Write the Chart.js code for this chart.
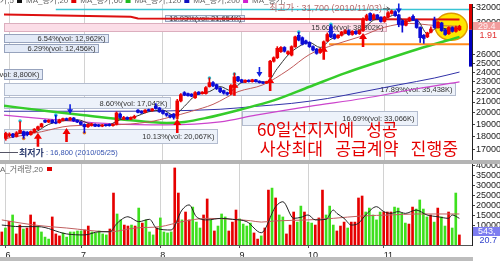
<!DOCTYPE html>
<html>
<head>
<meta charset="utf-8">
<script src="https://cdn.jsdelivr.net/npm/chart.js@4.4.0/dist/chart.umd.min.js"></script>
<style>
  html, body { margin: 0; padding: 0; background: #fff; }
  #wrap { position: relative; width: 500px; height: 261px; overflow: hidden; background: #fff; }
  canvas { position: absolute; left: 0; }
  #price { top: 0; }
  #volume { top: 164px; }
</style>
</head>
<body>
<div id="wrap">
  <canvas id="price" width="500" height="164"></canvas>
  <canvas id="volume" width="500" height="97"></canvas>
</div>
<script>
// time axis: index of the first trading day of each month
const monthStarts = [1, 22, 44, 66, 85, 106]
const monthLabels = ['6', '7', '8', '9', '10', '11']

// daily candles, 2010/05/31 .. 2010/11/30
const opens = [
    17850, 18100, 18200, 18000, 18300, 18400, 18350, 18150, 18350, 18600,
    18800, 19350, 19200, 19350, 19200, 19150, 19350, 19500, 19400, 19550,
    19350, 19200, 19000, 18800, 18900, 19000, 18950, 18850, 18950, 19000,
    18900, 19000, 19900, 19450, 19600, 19450, 19550, 20250, 20150, 20050,
    20300, 20200, 20600, 20450, 20200, 19950, 19800, 19900, 19700, 21100,
    21900, 21800, 21750, 21400, 21950, 21800, 21800, 22500, 22900, 22700,
    22350, 22100, 21900, 21800, 22900, 23500, 23200, 22950, 23150, 23000,
    23200, 23050, 22950, 22850, 23500, 25200, 25600, 26300, 26800, 26050,
    25900, 26900, 28300, 28000, 27600, 27400, 26900, 26600, 26200, 26700,
    27600, 29400, 28400, 28000, 28300, 28600, 28900, 28400, 28800, 28500,
    28900, 30300, 31200, 30500, 31000, 30700, 30100, 30700, 31200, 31450,
    31000, 30200, 29600, 30200, 30800, 30300, 29300, 28300, 28100, 28700,
    30300, 29300, 29900, 29000, 28500, 29300, 28800, 29000,
]
const highs = [
    18350, 18300, 18250, 18400, 19250, 18450, 18400, 18450, 18650, 18850,
    19100, 19400, 19400, 19400, 19800, 19450, 19550, 19550, 19600, 19600,
    19400, 19250, 19050, 19050, 19100, 19050, 19000, 19000, 19000, 19050,
    19050, 20100, 20000, 19700, 19650, 19650, 19800, 20300, 20200, 20300,
    20350, 20400, 20850, 20500, 20250, 20000, 19850, 19950, 21250, 21800,
    22000, 21850, 21800, 22000, 22000, 22000, 22500, 23400, 23000, 22750,
    22400, 22150, 21950, 22700, 23900, 23550, 23250, 23200, 23200, 23250,
    23250, 23100, 23000, 23050, 25300, 25700, 26900, 26900, 26900, 26400,
    27000, 28200, 28700, 28100, 27700, 27500, 27000, 26700, 26700, 27600,
    28600, 29700, 28500, 28400, 28800, 29000, 29000, 28900, 28900, 29000,
    30600, 31100, 31300, 31150, 31050, 30750, 30800, 31450, 31700, 31600,
    31100, 30300, 30300, 30700, 31000, 30400, 29400, 28400, 28700, 29400,
    30700, 30100, 30000, 29100, 29400, 29400, 29500, 29600,
]
const lows = [
    17700, 17950, 17900, 17950, 18250, 17850, 18050, 18100, 18300, 18550,
    18750, 19150, 19150, 19100, 19050, 19100, 19300, 19350, 19350, 19250,
    19150, 18950, 18300, 18750, 18850, 18800, 18800, 18800, 18850, 18850,
    18850, 18950, 19500, 19400, 19400, 19400, 19500, 20000, 19950, 20000,
    20150, 20150, 20350, 20050, 19900, 19700, 19550, 19450, 19500, 21000,
    21600, 21550, 21500, 21350, 21700, 21750, 21750, 22450, 22500, 22200,
    21900, 21750, 21650, 21700, 22800, 23000, 22900, 22900, 22950, 22950,
    22950, 22850, 22800, 22800, 23450, 25100, 25500, 26200, 26250, 25950,
    25800, 26800, 27600, 27100, 27200, 26800, 26400, 26000, 26100, 26600,
    27500, 28000, 27800, 27900, 28200, 28500, 28300, 28300, 28400, 28400,
    28800, 30200, 30200, 30400, 30400, 30000, 30000, 30600, 31100, 30800,
    29400, 28700, 29500, 30100, 30200, 29200, 27400, 27300, 28000, 28600,
    29200, 29200, 28800, 28300, 28400, 28700, 28700, 28900,
]
const closes = [
    18250, 18200, 18000, 18300, 18500, 18050, 18150, 18400, 18600, 18800,
    19050, 19200, 19350, 19150, 19100, 19400, 19500, 19400, 19550, 19300,
    19200, 19000, 18800, 19000, 19050, 18850, 18850, 18950, 18900, 18900,
    19000, 20000, 19600, 19600, 19450, 19600, 19700, 20050, 20000, 20250,
    20200, 20350, 20400, 20100, 19950, 19800, 19650, 19600, 21100, 21700,
    21650, 21600, 21550, 21900, 21750, 21950, 22400, 22900, 22600, 22300,
    22000, 21850, 21750, 22600, 23500, 23100, 22950, 23150, 23000, 23200,
    23000, 22900, 22850, 23000, 25200, 25600, 26700, 26800, 26350, 26300,
    26900, 28100, 27700, 27200, 27300, 26900, 26500, 26100, 26600, 27500,
    28400, 28100, 27900, 28300, 28700, 28900, 28400, 28800, 28500, 28900,
    30400, 30900, 30300, 31000, 30500, 30100, 30700, 31300, 31550, 30900,
    29700, 29600, 30200, 30600, 30300, 29300, 28000, 27900, 28600, 29100,
    29300, 30000, 28900, 28400, 29300, 28800, 29300, 29450,
]

// volume (thousand shares), r = red bar, g = green bar
const volumes = [
    6600, 8600, 12000, 15200, 5600, 10100, 8100, 8600, 15200, 11600, 9600, 6600, 4000, 3000, 14200, 5600,
    4600, 6100, 4000, 6600, 6600, 7100, 7100, 7600, 9600, 6600, 6100, 7100, 5600, 5100, 8100, 26300,
    15700, 12700, 10100, 9600, 10100, 9600, 18700, 11100, 12700, 6600, 5100, 8600, 13700, 6600, 6100, 6600,
    39000, 26300, 12700, 16700, 12700, 19200, 11600, 8600, 15200, 23300, 12700, 7100, 9600, 15700, 14200, 7100,
    11600, 17700, 13200, 10600, 9600, 11100, 6100, 3000, 4600, 8600, 27800, 28800, 23800, 15200, 14200, 5600,
    10100, 16700, 11600, 19700, 16700, 11600, 11100, 10100, 13700, 27800, 15200, 19700, 10100, 7100, 9600, 11600,
    8600, 11600, 11600, 23800, 24800, 16700, 18700, 15200, 12700, 16700, 16700, 16700, 16700, 19200, 18700, 16200,
    11100, 10600, 19200, 18200, 22800, 18200, 14200, 15200, 11600, 18700, 14200, 9600, 16700, 8600, 26300, 5100,
]
const volColors =
    'rgrgrrgrrrggggrr' + 'rggggggrrgggggrr' + 'ggrrgrgrgggrgggg' + 'rrgrrgggrrgrgggr' +
    'rrggggrrgrrgrggr' + 'rrggrggrrrgggrrr' + 'grrrrgggggrrrggg' + 'grrggggrgrggrggr'

// moving averages: [index, price]
const ma5 = [
    [0, 18000], [4, 18250], [8, 18350], [12, 19000], [16, 19300], [20, 19400], [24, 19000],
    [28, 18900], [32, 19400], [36, 19650], [40, 20100], [44, 20250], [47, 19800], [50, 20600],
    [53, 21600], [57, 22000], [60, 22500], [63, 22100], [66, 22900], [70, 23050], [73, 22950],
    [76, 24400], [79, 25900], [82, 26900], [85, 27400], [88, 26800], [91, 27800], [94, 28400],
    [97, 28700], [100, 29100], [103, 30300], [106, 30500], [109, 31000], [112, 30100],
    [115, 30300], [118, 28500], [121, 29300], [124, 29100], [127, 29200],
]
const ma20 = [
    [0, 17835], [10, 18390], [18, 18870], [30, 18960], [40, 19210], [46, 19630], [52, 20150],
    [58, 20780], [65, 21990], [72, 22680], [79, 24220], [85, 25970], [92, 27140], [99, 28100],
    [106, 29330], [113, 29840], [120, 29580], [127, 29460],
]
const ma60 = [
    [-0.5, 20650], [12, 20150], [22, 19800], [34, 19380], [45, 19125], [50, 19210], [56, 19550],
    [66, 20330], [75, 21150], [85, 22480], [95, 23900], [104, 25080], [115, 26550], [127, 28100],
]
const ma120 = [
    [-0.5, 20150], [30, 20150], [60, 20330], [70, 20600], [80, 20870], [90, 21330],
    [100, 21990], [110, 22680], [120, 23380], [127, 24010],
]
const ma200 = [
    [-0.5, 19800], [15, 19370], [30, 19040], [45, 18960], [60, 19210], [70, 19800],
    [85, 20600], [100, 21330], [115, 22280], [127, 22980],
]
const volMa5 = [
    [0, 10100], [5, 9300], [10, 9300], [18, 5600], [23, 5100], [27, 6700], [30, 6700], [32, 11000],
    [35, 14300], [38, 11800], [41, 13000], [43, 8400], [47, 7600], [50, 17700], [52, 20300],
    [54, 14300], [57, 12700], [61, 13500], [64, 13000], [68, 11800], [72, 6200], [76, 19400],
    [78, 21900], [81, 13500], [83, 14000], [85, 15200], [87, 12700], [90, 13000], [92, 17700],
    [93, 16000], [95, 13500], [97, 10100], [99, 11000], [101, 15200], [104, 19400], [106, 16900],
    [108, 16000], [110, 16900], [112, 16000], [115, 17700], [118, 15200], [121, 14300],
    [124, 13500], [125, 15200], [127, 13500],
]
const volMa20 = [
    [0, 12700], [9, 10100], [18, 8600], [30, 6700], [37, 8600], [44, 9300], [50, 11800],
    [57, 13500], [64, 13000], [69, 12300], [72, 11600], [76, 12200], [85, 12700], [92, 13500],
    [100, 14700], [108, 15200], [115, 15700], [127, 15700],
]

// drawn lines on the price panel
const resistance = [[-0.5, 31040], [35, 30740], [37, 30500], [127, 30380]]
const support = [[90.5, 27200], [130.5, 27200]]
const topLine = [[14, 31750], [130.5, 31750]]

// signals and markers: [index, price]
const buySignals = [[9, 18307], [17, 18700], [48, 19460], [64, 22980], [74, 23480], [89, 27020], [100, 28600]]
const sellSignals = [[18, 19890], [71, 23480], [91, 28220], [110, 31180]]
const newHighs = [[4, 19290], [14, 19800], [57, 23380], [64, 23800], [82, 28720], [91, 29710]]
const newLows = [[5, 17835], [22, 18307], [48, 19550]]

// percent-move boxes: [text, from index, to index, top price, bottom price, tone]
const notes = [
    ['10.93%(vol: 21,654K)', 44.7, 66.7, 31040, 30100, 0],
    ['15.60%(vol: 38,902K)', -0.5, 106.4, 29840, 28850, 1],
    ['6.54%(vol: 12,962K)', -0.5, 28.6, 28475, 27490, 0],
    ['6.29%(vol: 12,456K)', -0.5, 25.9, 27255, 26315, 0],
    ['(vol: 8,800K)', -0.5, 10.0, 24325, 23280, 0],
    ['17.89%(vol: 35,438K)', -0.5, 125.8, 22880, 21705, 2],
    ['8.60%(vol: 17,042K)', -0.5, 45.9, 21515, 20420, 2],
    ['10.13%(vol: 20,067K)', -0.5, 59.2, 18630, 17450, 2],
    ['16.69%(vol: 33,066K)', 66.1, 115.2, 20150, 18960, 2],
]
// red comment, each line: [text, from index, to index, price]
const callout = [
    ['60일선지지에 성공', 70.3, 109.7, 18550],
    ['사상최대 공급계약 진행중', 71.1, 126.6, 17040],
]
const lowPoint = { price: 16800, date: '2010/05/25', labelAt: 3.7 }
const highPoint = { price: 31700, date: '2010/11/03', index: 108, textEnd: 105.3, y: 31850 }
const circled = [124.7, 29400]
const rangeBar = [29000, 24600]
const priceTicks = [32000, 30000, 26000, 25000, 24000, 23000, 22000, 21000, 20000, 19000, 18000, 17000]
const volTicks = [40000, 35000, 30000, 25000, 20000, 15000, 10000]
const lastTags = { price: '29.4', change: '1.91', volume: '543,', ratio: '20.7' }
const maLegend = [
    ['MA_종가,5', '#111111'],
    ['MA_종가,20', '#e00000'],
    ['MA_종가,60', '#22bb22'],
    ['MA_종가,120', '#1010c0'],
    ['MA_종가,200', '#d020d0'],
    ['MA_종가,', null],
]

const RED = '#ee0000'
const BLUE = '#0b0bd6'
const FONT = '"Liberation Sans", "Noto Sans CJK KR", sans-serif'
const CJK = '"Noto Sans CJK KR", sans-serif'
Chart.defaults.font.family = FONT

const idx = closes.map((_, i) => i)
const pts = arr => arr.map(([x, y]) => ({ x, y }))
const isUp = i => closes[i] >= opens[i]

function timeAxis(withLabels) {
    return {
        type: 'linear',
        min: -0.5,
        max: 130.5,
        bounds: 'data',
        offset: false,
        afterBuildTicks: s => {
            s.ticks = monthStarts.map(v => ({ value: v }))
        },
        grid: {
            offset: false,
            color: '#d2d2d2',
            drawTicks: withLabels,
            tickLength: 3,
            tickColor: '#555',
        },
        border: { display: withLabels, color: '#555' },
        ticks: {
            display: withLabels,
            autoSkip: false,
            maxRotation: 0,
            align: 'start',
            padding: 2,
            color: '#222',
            font: { size: 9 },
            callback: v => monthLabels[monthStarts.indexOf(v)] || '',
        },
        afterFit: s => {
            s.height = withLabels ? 16 : 0
            s.paddingLeft = 0
            s.paddingRight = 0
        },
    }
}

function valueAxis(type, min, max, tickList) {
    return {
        type: type,
        position: 'right',
        min: min,
        max: max,
        bounds: 'data',
        afterBuildTicks: s => {
            s.ticks = tickList.map(v => ({ value: v }))
        },
        grid: { drawOnChartArea: false, tickLength: 3, color: '#444' },
        border: { display: true, color: '#222' },
        ticks: {
            autoSkip: false,
            padding: 1,
            color: '#222',
            font: { size: 9 },
            callback: v => String(v),
        },
        afterFit: s => {
            s.width = 28
            s.paddingTop = 0
            s.paddingBottom = 0
        },
    }
}

function line(data, color, width, order) {
    return {
        type: 'line',
        data: pts(data),
        borderColor: color,
        borderWidth: width,
        pointRadius: 0,
        fill: false,
        cubicInterpolationMode: 'monotone',
        order: order,
    }
}

function straight(data, color, width, order) {
    return { ...line(data, color, width, order), cubicInterpolationMode: 'default', tension: 0 }
}

function dots(data, color, order) {
    return {
        type: 'line',
        data: pts(data),
        showLine: false,
        pointRadius: 1.8,
        pointBorderWidth: 0,
        pointBackgroundColor: color,
        order: order,
    }
}

function drawArrow(ctx, x, y, dir, color, big) {
    // dir 1: pointing up (tip at y), -1: pointing down
    const head = big ? 6 : 5
    const half = big ? 4 : 3
    const shaft = big ? 1.3 : 0.8
    const len = big ? 14 : 10
    ctx.fillStyle = color
    ctx.beginPath()
    ctx.moveTo(x, y)
    ctx.lineTo(x - half, y + dir * head)
    ctx.lineTo(x - shaft, y + dir * head)
    ctx.lineTo(x - shaft, y + dir * len)
    ctx.lineTo(x + shaft, y + dir * len)
    ctx.lineTo(x + shaft, y + dir * head)
    ctx.lineTo(x + half, y + dir * head)
    ctx.closePath()
    ctx.fill()
}

const priceDecor = {
    id: 'priceDecor',
    beforeDatasetsDraw(chart) {
        const { ctx, scales: { x, y } } = chart
        const tones = [
            ['#e3eaf7', '#97a3bd'],
            ['#fbdde7', '#dcaebe'],
            ['#edf2fa', '#b3bccf'],
        ]
        ctx.save()
        ctx.font = `7.5px ${FONT}`
        ctx.textAlign = 'right'
        ctx.textBaseline = 'middle'
        notes.forEach(([text, from, to, top, bottom, tone]) => {
            const x0 = Math.round(x.getPixelForValue(from)) + 0.5
            const x1 = Math.round(x.getPixelForValue(to)) + 0.5
            const y0 = Math.round(y.getPixelForValue(top)) + 0.5
            const y1 = Math.round(y.getPixelForValue(bottom)) + 0.5
            ctx.fillStyle = tones[tone][0]
            ctx.fillRect(x0, y0, x1 - x0, y1 - y0)
            ctx.strokeStyle = tones[tone][1]
            ctx.lineWidth = 1
            ctx.strokeRect(x0, y0, x1 - x0, y1 - y0)
            ctx.fillStyle = '#333'
            ctx.fillText(text, x1 - 3, (y0 + y1) / 2 + 0.5)
        })

        // highlighted last candles
        ctx.beginPath()
        ctx.ellipse(x.getPixelForValue(circled[0]), y.getPixelForValue(circled[1]), 16, 13.5, 0, 0, Math.PI * 2)
        ctx.fillStyle = '#ffe600'
        ctx.fill()
        ctx.strokeStyle = '#e09a00'
        ctx.lineWidth = 1.5
        ctx.stroke()
        ctx.restore()
    },
    afterDatasetsDraw(chart) {
        const { ctx, scales: { x, y } } = chart
        ctx.save()
        buySignals.forEach(([i, p]) => drawArrow(ctx, x.getPixelForValue(i), y.getPixelForValue(p), 1, '#f00000', true))
        sellSignals.forEach(([i, p]) => drawArrow(ctx, x.getPixelForValue(i), y.getPixelForValue(p), -1, '#1020e0', false))

        // lowest price note
        const ly = Math.round(y.getPixelForValue(lowPoint.price)) + 0.5
        const lx = x.getPixelForValue(lowPoint.labelAt)
        ctx.strokeStyle = '#556'
        ctx.lineWidth = 1
        ctx.beginPath()
        ctx.moveTo(0, ly)
        ctx.lineTo(lx - 1, ly)
        ctx.stroke()
        ctx.textBaseline = 'middle'
        ctx.textAlign = 'left'
        ctx.font = `bold 9px ${CJK}`
        ctx.fillStyle = '#2d3c70'
        ctx.fillText('최저가', lx, ly)
        const w = ctx.measureText('최저가').width
        ctx.font = `7.5px ${FONT}`
        ctx.fillStyle = '#3553b0'
        ctx.fillText(` : ${lowPoint.price.toLocaleString('en-US')} (${lowPoint.date})`, lx + w, ly)

        // highest price note
        const hy = y.getPixelForValue(highPoint.y)
        const hx = x.getPixelForValue(highPoint.textEnd)
        ctx.font = `9px ${FONT}`
        ctx.textAlign = 'right'
        ctx.fillStyle = 'rgba(170, 80, 80, 0.85)'
        ctx.fillText(`최고가 : ${highPoint.price.toLocaleString('en-US')} (${highPoint.date})`, hx, hy)
        const tx = x.getPixelForValue(highPoint.index) - 2
        ctx.strokeStyle = '#555'
        ctx.beginPath()
        ctx.moveTo(hx + 1, hy)
        ctx.lineTo(tx, hy)
        ctx.moveTo(tx - 3, hy - 2)
        ctx.lineTo(tx, hy)
        ctx.lineTo(tx - 3, hy + 2)
        ctx.stroke()

        // red comment, words spread over the span they cover in the picture
        ctx.font = `17px ${CJK}`
        ctx.textAlign = 'left'
        ctx.fillStyle = '#e40000'
        callout.forEach(([text, from, to, p]) => {
            const x0 = x.getPixelForValue(from)
            const x1 = x.getPixelForValue(to)
            const words = text.split(' ')
            const gap = 12
            const natural = words.reduce((s, wd) => s + ctx.measureText(wd).width, 0) + gap * (words.length - 1)
            ctx.save()
            ctx.translate(x0, y.getPixelForValue(p))
            ctx.scale((x1 - x0) / natural, 1)
            let cx = 0
            words.forEach(wd => {
                ctx.fillText(wd, cx, 0)
                cx += ctx.measureText(wd).width + gap
            })
            ctx.restore()
        })
        ctx.restore()
    },
    afterDraw(chart) {
        const { ctx, chartArea, scales: { y } } = chart
        ctx.save()
        // bar on the price axis
        const mid = y.getPixelForValue(rangeBar[0])
        const low = y.getPixelForValue(rangeBar[1])
        ctx.fillStyle = '#dd0000'
        ctx.fillRect(chartArea.right - 3, chartArea.top, 3, mid - chartArea.top)
        ctx.fillStyle = '#0000c0'
        ctx.fillRect(chartArea.right - 3, mid, 3, low - mid)

        // last price tag
        const py = Math.round(y.getPixelForValue(closes[closes.length - 1]))
        ctx.fillStyle = '#f29c9c'
        ctx.fillRect(chartArea.right + 1, py - 4, 27, 8)
        ctx.font = `9px ${FONT}`
        ctx.textBaseline = 'middle'
        ctx.textAlign = 'left'
        ctx.fillStyle = '#fff0f0'
        ctx.fillText(lastTags.price, chartArea.right + 6, py + 0.5)
        ctx.textAlign = 'right'
        ctx.fillStyle = '#e03030'
        ctx.fillText(lastTags.change, 497, py + 10)

        // panel separator
        ctx.fillStyle = '#b4b4b4'
        ctx.fillRect(0, chartArea.bottom, chart.width, 4)

        // legend (cut at the top edge)
        ctx.font = `8px ${FONT}`
        ctx.textBaseline = 'alphabetic'
        ctx.textAlign = 'left'
        let lxp = 14 - ctx.measureText(maLegend[0][0]).width
        maLegend.forEach(([label, color]) => {
            ctx.fillStyle = '#666'
            ctx.fillText(label, lxp, 2.5)
            lxp += ctx.measureText(label).width + 3
            if (color) {
                ctx.fillStyle = color
                ctx.fillRect(lxp, -2, 5, 5)
                lxp += 9
            }
        })
        ctx.restore()
    },
}

const volDecor = {
    id: 'volDecor',
    afterDraw(chart) {
        const { ctx, chartArea } = chart
        ctx.save()
        ctx.font = `8px ${FONT}`
        ctx.textBaseline = 'middle'
        ctx.textAlign = 'right'
        ctx.fillStyle = '#666'
        ctx.fillText('MA_거래량,20', 43, 5.5)
        ctx.fillStyle = '#e00000'
        ctx.fillRect(47, 3, 5, 4)

        // last volume tags
        ctx.fillStyle = '#7d7df0'
        ctx.fillRect(chartArea.right + 1, 63, 27, 9)
        ctx.font = `9px ${FONT}`
        ctx.textAlign = 'left'
        ctx.fillStyle = '#ffffff'
        ctx.fillText(lastTags.volume, chartArea.right + 6, 67.5)
        ctx.textAlign = 'right'
        ctx.fillStyle = '#3344cc'
        ctx.fillText(lastTags.ratio, 497, 77)

        // bottom frame
        ctx.fillStyle = '#bdbdbd'
        ctx.fillRect(0, chart.height - 4, chartArea.right + 1, 4)
        ctx.restore()
    },
}

new Chart(document.getElementById('price'), {
    type: 'bar',
    data: {
        datasets: [
            {
                data: idx.map(i => ({ x: i, y: [opens[i], closes[i]] })),
                backgroundColor: c => (isUp(c.dataIndex) ? RED : BLUE),
                barThickness: 3,
                grouped: false,
                minBarLength: 1,
                order: 0,
            },
            {
                data: idx.map(i => ({ x: i, y: [lows[i], highs[i]] })),
                backgroundColor: c => (isUp(c.dataIndex) ? RED : BLUE),
                barThickness: 1,
                grouped: false,
                order: 1,
            },
            dots(newHighs, '#22c8d8', 2),
            dots(newLows, '#f08020', 3),
            line(ma5, '#333333', 1, 4),
            line(ma20, '#c05a5a', 1, 5),
            straight(resistance, '#dd1010', 2, 6),
            straight(support, '#ff8a1c', 2, 7),
            straight(topLine, '#38c4d4', 1.5, 8),
            line(ma60, '#35cc2a', 2.5, 9),
            line(ma120, '#3232a8', 1, 10),
            line(ma200, '#cc44cc', 1.2, 11),
        ],
    },
    options: {
        responsive: false,
        animation: false,
        layout: { padding: { left: 0, right: 0, top: 0, bottom: 4 } },
        plugins: { legend: { display: false }, tooltip: { enabled: false } },
        scales: {
            x: timeAxis(false),
            y: valueAxis('logarithmic', 16204, 32549, priceTicks),
        },
    },
    plugins: [priceDecor],
})

new Chart(document.getElementById('volume'), {
    type: 'bar',
    data: {
        datasets: [
            line(volMa5, '#222222', 1, 0),
            line(volMa20, '#c06060', 1, 1),
            {
                data: idx.map(i => ({ x: i, y: volumes[i] })),
                backgroundColor: idx.map(i => (volColors[i] === 'r' ? '#e60000' : '#3ee01e')),
                barThickness: 2,
                grouped: false,
                order: 2,
            },
        ],
    },
    options: {
        responsive: false,
        animation: false,
        layout: { padding: 0 },
        plugins: { legend: { display: false }, tooltip: { enabled: false } },
        scales: {
            x: timeAxis(true),
            y: valueAxis('linear', 0, 41000, volTicks),
        },
    },
    plugins: [volDecor],
})
</script>
</body>
</html>
